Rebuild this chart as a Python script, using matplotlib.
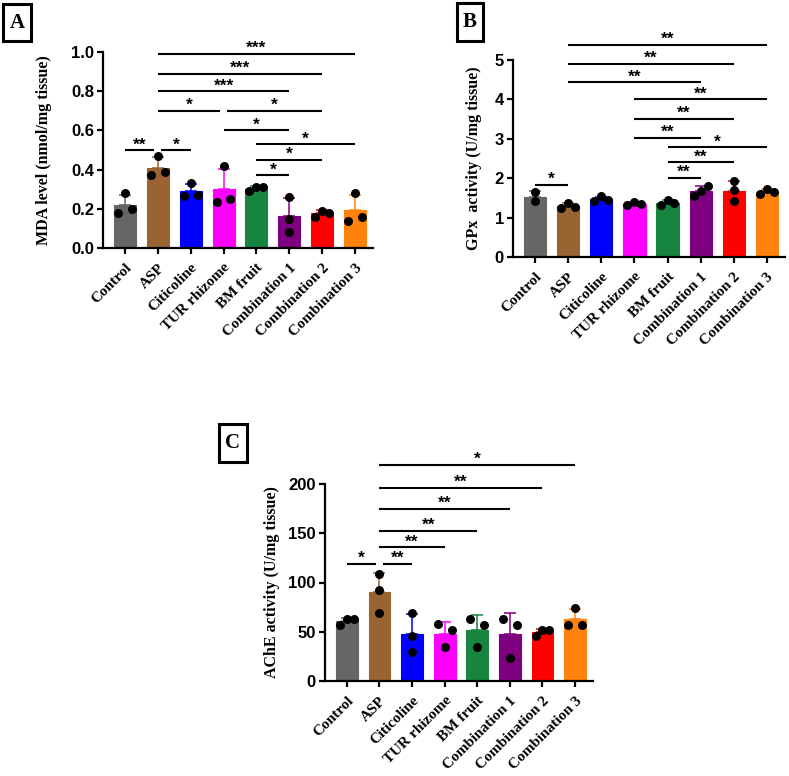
import numpy as np
import matplotlib
matplotlib.use("Agg")
import matplotlib.pyplot as plt
from matplotlib.patches import Rectangle

# ---------------- data ----------------
groups = ["Control", "ASP", "Citicoline", "TUR rhizome", "BM fruit",
          "Combination 1", "Combination 2", "Combination 3"]
colors = ["#666666", "#9A6332", "#0000FF", "#FF00FF", "#17853F",
          "#7F007F", "#FF0000", "#FF820A"]

mda_values = [[0.18, 0.28, 0.20], [0.37, 0.47, 0.39], [0.265, 0.33, 0.27],
              [0.235, 0.42, 0.25], [0.29, 0.31, 0.31], [0.26, 0.15, 0.08],
              [0.16, 0.19, 0.18], [0.14, 0.28, 0.16]]
gpx_values = [[1.64, 1.42], [1.25, 1.37, 1.27], [1.41, 1.545, 1.435],
              [1.33, 1.39, 1.35], [1.315, 1.44, 1.36], [1.56, 1.68, 1.79],
              [1.93, 1.70, 1.41], [1.595, 1.72, 1.64]]
ache_values = [[57.2, 63, 63], [109, 92, 69], [69, 46, 29], [57.6, 34.6, 51.5],
               [63, 34.6, 57.2], [63, 23, 57.2], [46, 51.5, 51.5], [57.2, 74.6, 57.2]]

# significance comparisons: (group i, group j, line level, label)
mda_sig = [(0, 1, 0.50, "**"), (1, 2, 0.50, "*"), (4, 5, 0.37, "*"), (4, 6, 0.45, "*"),
           (4, 7, 0.53, "*"), (3, 5, 0.60, "*"), (1, 3, 0.70, "*"), (3, 6, 0.70, "*"),
           (1, 5, 0.80, "***"), (1, 6, 0.89, "***"), (1, 7, 0.99, "***")]
gpx_sig = [(0, 1, 1.83, "*"), (4, 5, 2.01, "**"), (4, 6, 2.41, "**"), (4, 7, 2.79, "*"),
           (3, 5, 3.03, "**"), (3, 6, 3.51, "**"), (3, 7, 4.00, "**"),
           (1, 5, 4.44, "**"), (1, 6, 4.91, "**"), (1, 7, 5.39, "**")]
ache_sig = [(0, 1, 119, "*"), (1, 2, 119, "**"), (1, 3, 135.6, "**"), (1, 4, 152.5, "**"),
            (1, 5, 175, "**"), (1, 6, 196, "**"), (1, 7, 219.7, "*")]

mda_ticks = [0.0, 0.2, 0.4, 0.6, 0.8, 1.0]
gpx_ticks = [0, 1, 2, 3, 4, 5]
ache_ticks = [0, 50, 100, 150, 200]

# ---------------- style ----------------
SANS = "Liberation Sans"
SERIF = "Liberation Serif"
W, H = 789, 776
fig = plt.figure(figsize=(W / 100, H / 100), dpi=100)


def px_axes(left, top_px, right, bottom_px):
    return fig.add_axes([left / W, 1 - bottom_px / H, (right - left) / W, (bottom_px - top_px) / H])


def panel(ax, values, sig, ticks, ylabel, fmt, label_x):
    n = len(groups)
    x = np.arange(n)
    means = [np.mean(v) for v in values]
    sds = [np.std(v, ddof=1) for v in values]
    ax.set_xlim(-0.67, n - 0.45)
    ax.set_ylim(ticks[0], ticks[-1])
    for i in range(n):
        ax.bar(x[i], means[i], width=0.67, color=colors[i], edgecolor=colors[i], lw=0.8, zorder=2)
        ax.errorbar(x[i], means[i], yerr=[[0], [sds[i]]], color=colors[i], lw=1.1,
                    capsize=4, capthick=1.1, zorder=3)
    # point layout (swarm-like clusters)
    fig.canvas.draw()
    y2px = ax.transData.transform([(0, 1)])[0][1] - ax.transData.transform([(0, 0)])[0][1]
    thr = 7.5 / y2px
    d = 0.21
    for i, vals in enumerate(values):
        order = np.argsort(vals, kind="stable")
        clusters = [[order[0]]]
        for k in order[1:]:
            if vals[k] - vals[clusters[-1][-1]] < thr:
                clusters[-1].append(k)
            else:
                clusters.append([k])
        for cl in clusters:
            cl = sorted(cl)
            if len(cl) == 1:
                offs = [0]
            elif len(cl) == 2:
                offs = [-d, d]
            else:
                offs = [(m - (len(cl) - 1) / 2) * d for m in range(len(cl))]
            for k, o in zip(cl, offs):
                ax.scatter(x[i] + o, vals[k], s=42, color="black", zorder=4, clip_on=False,
                           linewidths=0)
    # significance lines
    for (i, j, y, lab) in sig:
        x1, x2 = float(i), float(j)
        for (a, b, yy, _) in sig:
            if (a, b) == (i, j) or abs(yy - y) > 1e-9:
                continue
            if b == i or a == i:
                x1 = i + 0.11
            if a == j or b == j:
                x2 = j - 0.11
        ax.plot([x1, x2], [y, y], color="black", lw=1.5, clip_on=False, zorder=5,
                solid_capstyle="butt")
        ax.annotate(lab, xy=((x1 + x2) / 2, y), xytext=(0, 0.5), textcoords="offset points",
                    ha="center", va="baseline", fontsize=12.5, fontweight="bold",
                    family=SANS, annotation_clip=False)
    for s in ["top", "right"]:
        ax.spines[s].set_visible(False)
    for s in ["left", "bottom"]:
        ax.spines[s].set_linewidth(1.6)
    ax.set_yticks(ticks)
    ax.set_yticklabels([fmt.format(t) for t in ticks], family=SANS, fontweight="bold",
                       fontsize=12)
    ax.set_xticks(x)
    ax.set_xticklabels(groups, rotation=45, ha="right", rotation_mode="anchor",
                       family=SERIF, fontweight="bold", fontsize=11)
    ax.tick_params(axis="both", direction="out", length=4.5, width=1.6)
    ax.tick_params(axis="x", pad=5)
    ax.tick_params(axis="y", pad=2)
    ax.set_ylabel(ylabel, family=SERIF, fontweight="bold", fontsize=11.5)
    ax.yaxis.set_label_coords(label_x, 0.5)


def letter(x0, y0, x1, y1, txt):
    fig.patches.append(Rectangle((x0 / W, 1 - y1 / H), (x1 - x0) / W, (y1 - y0) / H,
                                 transform=fig.transFigure, fill=False, lw=2.2,
                                 edgecolor="black"))
    fig.text((x0 + x1) / 2 / W, 1 - (y0 + y1) / 2 / H, txt, ha="center", va="center",
             family=SERIF, fontweight="bold", fontsize=15)


axA = px_axes(103, 52, 373, 248)
panel(axA, mda_values, mda_sig, mda_ticks, "MDA level (nmol/mg tissue)", "{:.1f}", -0.19)
axB = px_axes(513, 60, 785, 257)
panel(axB, gpx_values, gpx_sig, gpx_ticks, "GPx  activity (U/mg tissue)", "{:d}", -0.113)
axC = px_axes(325, 484, 593, 681)
panel(axC, ache_values, ache_sig, ache_ticks, "AChE activity (U/mg tissue)", "{:d}", -0.168)

letter(3, 4, 31, 41, "A")
letter(457, 3, 483, 41, "B")
letter(219, 424, 247, 462, "C")

fig.savefig("out.png", dpi=100)
